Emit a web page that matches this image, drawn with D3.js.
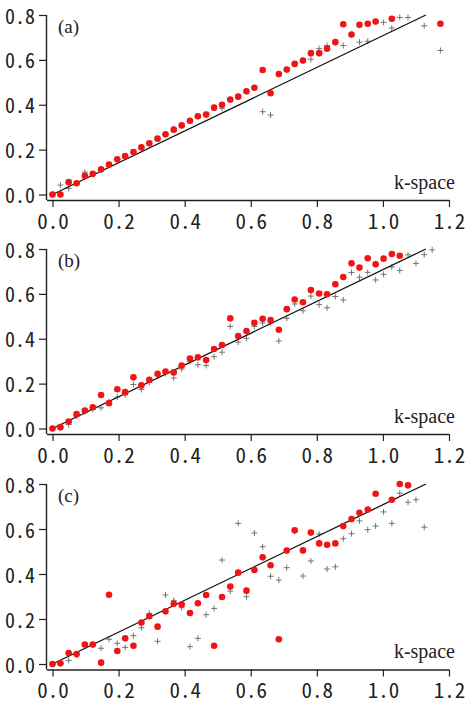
<!DOCTYPE html>
<html>
<head>
<meta charset="utf-8">
<script src="https://cdn.jsdelivr.net/npm/d3@7"></script>
<style>
  html, body { margin: 0; padding: 0; background: #fff; }
  svg { display: block; }
</style>
</head>
<body>
<svg></svg>
<script>
// k sample positions, shared by all three panels
const kValues = [0, 0.024, 0.049, 0.073, 0.098, 0.122, 0.147, 0.171, 0.196, 0.220,
  0.245, 0.269, 0.293, 0.318, 0.342, 0.367, 0.391, 0.416, 0.440, 0.465,
  0.489, 0.513, 0.538, 0.562, 0.587, 0.611, 0.636, 0.660, 0.685, 0.709,
  0.733, 0.758, 0.782, 0.807, 0.831, 0.856, 0.880, 0.905, 0.929, 0.954,
  0.978, 1.002, 1.027, 1.051, 1.076, 1.100, 1.125, 1.149, 1.174];

// panel (a)
const dotsA = [0, 0, 0.055, 0.05, 0.083, 0.092, 0.112, 0.133, 0.157, 0.171,
  0.189, 0.21, 0.228, 0.249, 0.268, 0.289, 0.308, 0.329, 0.349, 0.356,
  0.387, 0.40, 0.423, 0.436, 0.46, 0.476, 0.555, 0.451, 0.537, 0.557,
  0.582, 0.597, 0.630, 0.630, 0.650, 0.679, 0.759, 0.713, 0.756, 0.761,
  0.771, null, 0.783, null, null, null, null, null, 0.761];
const crossA = [0, 0.042, 0.027, 0.05, 0.1, 0.09, 0.11, 0.132, 0.156, 0.17,
  0.188, 0.209, 0.227, 0.248, 0.267, 0.288, 0.307, 0.328, 0.348, 0.355,
  0.386, 0.384, 0.422, 0.435, 0.459, 0.475, 0.369, 0.354, 0.536, 0.556,
  0.581, 0.596, 0.603, 0.65, 0.664, 0.678, 0.664, 0.712, 0.679, 0.683,
  0.770, 0.767, 0.742, 0.789, 0.789, null, 0.752, null, 0.642];

// panel (b)
const dotsB = [0, 0.006, 0.031, 0.064, 0.08, 0.095, 0.149, 0.113, 0.175, 0.162,
  0.228, 0.192, 0.217, 0.244, 0.254, 0.25, 0.281, 0.312, 0.317, 0.305,
  0.354, 0.372, 0.491, 0.412, 0.434, 0.471, 0.489, 0.483, 0.44, 0.532,
  0.575, 0.563, 0.617, 0.602, 0.598, 0.643, 0.675, 0.736, 0.717, 0.759,
  0.732, 0.757, 0.778, 0.770, null, null, null, null, null];
const crossB = [0, 0.003, 0.018, 0.055, 0.075, 0.085, 0.092, 0.12, 0.14, 0.15,
  0.196, 0.174, 0.205, 0.235, 0.245, 0.225, 0.265, 0.30, 0.284, 0.281,
  0.32, 0.34, 0.455, 0.385, 0.402, 0.455, 0.47, 0.47, 0.39, 0.491,
  0.555, 0.525, 0.59, 0.552, 0.538, 0.588, 0.573, 0.695, 0.674, 0.696,
  0.662, 0.687, 0.72, 0.704, 0.774, 0.736, 0.775, 0.796, null];

// panel (c)
const dotsC = [0, 0.003, 0.049, 0.044, 0.087, 0.087, 0.006, 0.308, 0.058, 0.114,
  0.081, 0.184, 0.212, 0.166, 0.234, 0.268, 0.264, 0.227, 0.27, 0.307,
  0.081, 0.298, 0.344, 0.406, 0.326, 0.418, 0.474, 0.439, 0.11, 0.504,
  0.594, 0.505, 0.584, 0.536, 0.53, 0.536, 0.613, 0.644, 0.672, 0.687,
  0.757, null, 0.73, 0.8, 0.794, null, null, null, null];
const crossC = [0, 0.003, 0.016, 0.04, 0.08, 0.085, 0.07, 0.11, 0.092, 0.074,
  0.126, 0.161, 0.225, 0.101, 0.307, 0.283, 0.25, 0.077, 0.114, 0.219,
  0.247, 0.462, 0.324, 0.625, 0.299, 0.582, 0.521, 0.39, 0.373, 0.428,
  0.59, 0.391, 0.458, 0.578, 0.422, 0.432, 0.557, 0.579, 0.636, 0.597,
  0.613, 0.676, 0.625, 0.759, 0.719, 0.730, 0.608, null, null];

// reference line k -> value
const lineK = [0, 1.13];
const lineV = [0, 0.8];

const xTicks = [0, 0.2, 0.4, 0.6, 0.8, 1.0, 1.2];
const yTicks = [0, 0.2, 0.4, 0.6, 0.8];
const panelLabels = ["(a)", "(b)", "(c)"];
const axisName = "k-space";

const width = 469, height = 719;
const svg = d3.select("svg")
  .attr("width", width)
  .attr("height", height);

// y pixel of 0.8 and 0.0 for each panel
const panels = [
  { label: panelLabels[0], dots: dotsA, cross: crossA, top: 15, bottom: 194.5 },
  { label: panelLabels[1], dots: dotsB, cross: crossB, top: 249, bottom: 428.5 },
  { label: panelLabels[2], dots: dotsC, cross: crossC, top: 484, bottom: 664 }
];

const x = d3.scaleLinear().domain([0, 1.2]).range([52.5, 449]);
const tickFont = "'Noto Sans Mono CJK JP', 'DejaVu Sans Mono', monospace";
const serif = "'Liberation Serif', 'DejaVu Serif', serif";
const gap = 5.5; // axes sit a little away from the data origin

panels.forEach(p => {
  const y = d3.scaleLinear().domain([0, 0.8]).range([p.bottom, p.top]);
  const g = svg.append("g");

  // x axis
  const xAxis = g.append("g")
    .attr("transform", `translate(0,${p.bottom + gap})`)
    .call(d3.axisBottom(x).tickValues(xTicks).tickSize(7).tickPadding(7)
      .tickFormat(d => d.toFixed(1)));
  xAxis.select(".domain").attr("d", `M${x(0) - gap},0.5H${x(1.2)}`);
  xAxis.selectAll(".tick text").attr("font-size", 21);

  // y axis
  const yAxis = g.append("g")
    .attr("transform", `translate(${x(0) - gap},0)`)
    .call(d3.axisLeft(y).tickValues(yTicks).tickSize(8).tickPadding(4)
      .tickFormat(d => d.toFixed(1)));
  yAxis.select(".domain").attr("d", `M-0.5,${y(0.8)}V${p.bottom + gap}`);
  yAxis.selectAll(".tick text").attr("font-size", 20).attr("dy", "0.4em");

  g.selectAll(".tick line").attr("stroke", "#222").attr("stroke-width", 1.2);
  g.selectAll(".domain").attr("stroke", "#222").attr("stroke-width", 1.4);
  g.selectAll(".tick text")
    .attr("font-family", tickFont)
    .attr("fill", "#222");

  // gray crosses
  const crossData = kValues.map((k, i) => ({ k, v: p.cross[i] })).filter(d => d.v != null);
  g.selectAll(".cross")
    .data(crossData)
    .enter().append("path")
    .attr("class", "cross")
    .attr("d", d => `M${x(d.k) - 3},${y(d.v)}h6M${x(d.k)},${y(d.v) - 3}v6`)
    .attr("stroke", "#666")
    .attr("stroke-width", 0.9);

  // reference line
  g.append("line")
    .attr("x1", x(lineK[0])).attr("y1", y(lineV[0]))
    .attr("x2", x(lineK[1])).attr("y2", y(lineV[1]))
    .attr("stroke", "#111")
    .attr("stroke-width", 1.3);

  // red dots
  const dotData = kValues.map((k, i) => ({ k, v: p.dots[i] })).filter(d => d.v != null);
  g.selectAll(".dot")
    .data(dotData)
    .enter().append("circle")
    .attr("class", "dot")
    .attr("cx", d => x(d.k))
    .attr("cy", d => y(d.v))
    .attr("r", 3.3)
    .attr("fill", "#f01414");

  // panel label and axis name
  g.append("text")
    .attr("x", 58)
    .attr("y", p.top + 18)
    .attr("font-family", serif)
    .attr("font-size", 19)
    .attr("fill", "#222")
    .text(p.label);

  g.append("text")
    .attr("x", 455)
    .attr("y", p.bottom - 6)
    .attr("text-anchor", "end")
    .attr("font-family", serif)
    .attr("font-size", 20)
    .attr("fill", "#222")
    .text(axisName);
});
</script>
</body>
</html>
